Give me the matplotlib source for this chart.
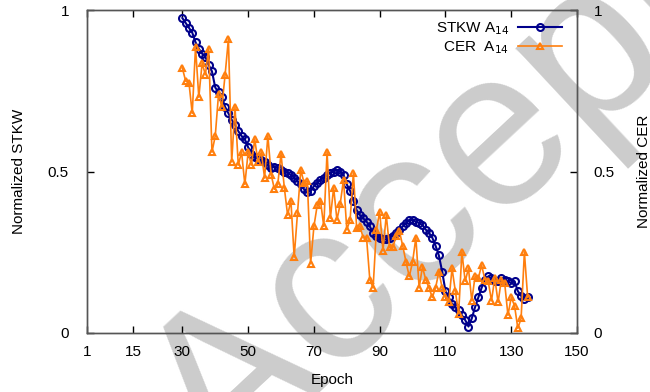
import matplotlib
matplotlib.use("Agg")
import matplotlib.pyplot as plt
import numpy as np

plt.rcParams['font.family'] = ['Liberation Sans', 'DejaVu Sans']

epochs = list(range(30, 136))

stkw = [0.975, 0.96, 0.945, 0.93, 0.90, 0.88, 0.865, 0.855, 0.83, 0.81,
        0.76, 0.745, 0.73, 0.70, 0.68, 0.66, 0.645, 0.625, 0.61, 0.60,
        0.575, 0.555, 0.545, 0.54, 0.535, 0.53, 0.52, 0.51, 0.515, 0.51,
        0.505, 0.50, 0.495, 0.49, 0.48, 0.47, 0.46, 0.445, 0.435, 0.44,
        0.455, 0.465, 0.475, 0.48, 0.49, 0.495, 0.50, 0.505, 0.50, 0.49,
        0.46, 0.44, 0.41, 0.38, 0.365, 0.355, 0.345, 0.33, 0.31, 0.30,
        0.295, 0.29, 0.29, 0.295, 0.30, 0.31, 0.32, 0.33, 0.34, 0.35,
        0.35, 0.345, 0.34, 0.335, 0.32, 0.31, 0.295, 0.27, 0.24, 0.19,
        0.13, 0.11, 0.09, 0.08, 0.07, 0.055, 0.04, 0.02, 0.045, 0.08,
        0.11, 0.14, 0.165, 0.175, 0.17, 0.16, 0.16, 0.17, 0.165, 0.16,
        0.155, 0.16, 0.13, 0.115, 0.105, 0.11]

cer = [0.82, 0.78, 0.775, 0.68, 0.885, 0.73, 0.835, 0.80, 0.88, 0.56,
       0.61, 0.74, 0.70, 0.80, 0.91, 0.53, 0.70, 0.52, 0.56, 0.46,
       0.56, 0.52, 0.60, 0.53, 0.56, 0.48, 0.61, 0.49, 0.445, 0.46,
       0.555, 0.45, 0.365, 0.41, 0.235, 0.37, 0.505, 0.465, 0.47, 0.215,
       0.33, 0.395, 0.41, 0.33, 0.56, 0.355, 0.45, 0.35, 0.40, 0.475,
       0.32, 0.35, 0.495, 0.325, 0.33, 0.295, 0.295, 0.165, 0.14, 0.32,
       0.375, 0.255, 0.365, 0.265, 0.265, 0.30, 0.315, 0.27, 0.22, 0.175,
       0.22, 0.295, 0.14, 0.205, 0.165, 0.14, 0.11, 0.14, 0.19, 0.14,
       0.11, 0.095, 0.20, 0.13, 0.06, 0.25, 0.16, 0.20, 0.10, 0.175,
       0.17, 0.21, 0.165, 0.16, 0.10, 0.17, 0.095, 0.165, 0.155, 0.055,
       0.11, 0.085, 0.015, 0.045, 0.25, 0.11]

xticks = [1, 15, 30, 50, 70, 90, 110, 130, 150]
yticks = [0, 0.5, 1]
ytick_labels = ['0', '0.5', '1']

navy = '#00008b'
orange = '#ff7f0e'
framec = '#555555'

fig = plt.figure(figsize=(6.5, 3.92), dpi=100)
ax = fig.add_axes([87/650, 59/392, 490/650, 323/392])
ax.set_facecolor('none')

# watermark behind
fig.text(0.343, -0.230, 'Accepted', fontsize=161, color='#cccccc', rotation=43,
         rotation_mode='anchor', ha='left', va='baseline', zorder=-5,
         family=['Liberation Sans'])

ax.plot(epochs, stkw, color=navy, lw=1.5, marker='o', ms=5, mfc='none',
        mew=1.5, mec=navy, label='STKW A$_{14}$', zorder=3)
ax.plot(epochs, cer, color=orange, lw=1.2, marker='^', ms=5, mfc='none',
        mew=1.5, mec=orange, label='CER  A$_{14}$', zorder=4)

ax.set_xlim(1, 150)
ax.set_ylim(0, 1)
ax.set_xticks(xticks)
ax.set_xticklabels([str(t) for t in xticks])
ax.set_yticks(yticks)
ax.set_yticklabels(ytick_labels)
ax.tick_params(direction='in', length=5, width=1, color='black', labelsize=11,
               top=True, right=False, pad=9)
ax.tick_params(axis='y', pad=13)
for s in ax.spines.values():
    s.set_color(framec)
    s.set_linewidth(1)

ax2 = ax.twinx()
ax2.set_ylim(0, 1)
ax2.set_yticks(yticks)
ax2.set_yticklabels(ytick_labels)
ax2.tick_params(direction='in', length=5, width=1, labelsize=11, pad=12)
for s in ax2.spines.values():
    s.set_color(framec)
    s.set_linewidth(1)
ax2.set_ylabel('Normalized CER', fontsize=11, labelpad=16)

ax.set_xlabel('Epoch', fontsize=11, labelpad=10)
ax.set_ylabel('Normalized STKW', fontsize=11, labelpad=16)

leg = ax.legend(loc='upper right', bbox_to_anchor=(0.9816, 0.9858),
                frameon=False, markerfirst=False,
                fontsize=11, handlelength=2.9, borderaxespad=0.0,
                labelspacing=0.1, handletextpad=0.55)

fig.savefig('out.png', dpi=100)
